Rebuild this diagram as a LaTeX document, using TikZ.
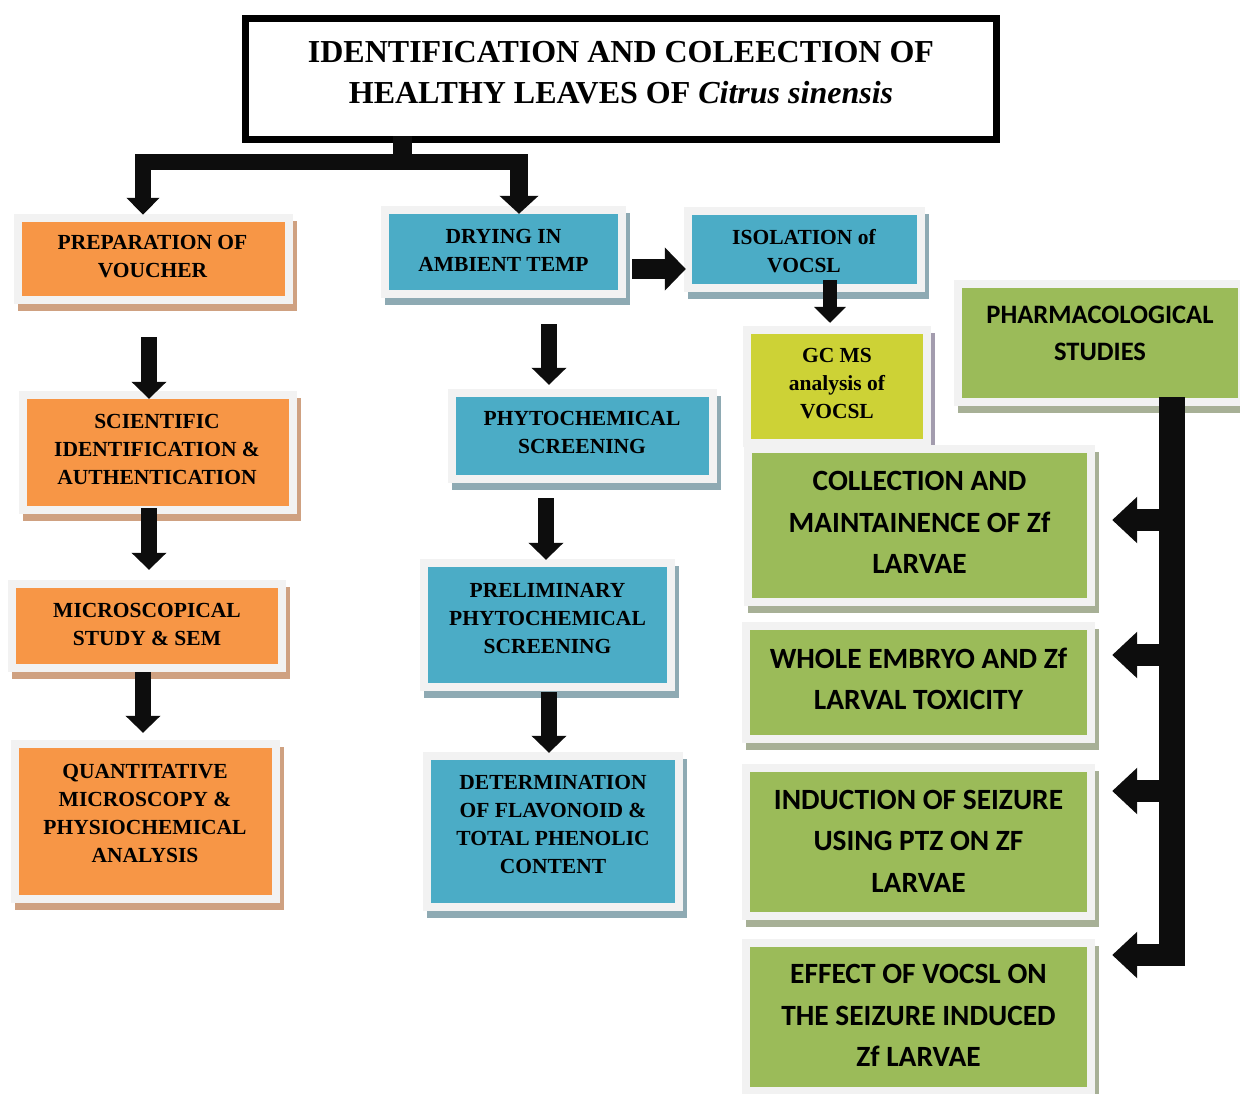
\documentclass[tikz,border=0pt]{standalone}
\usepackage{fontspec}
\setmainfont{Liberation Serif}
\newfontfamily\calfont{Carlito}
\usetikzlibrary{arrows.meta,calc}
\definecolor{orF}{HTML}{F79646}
\definecolor{orS}{HTML}{CFA181}
\definecolor{blF}{HTML}{4BACC6}
\definecolor{blS}{HTML}{8EAAB3}
\definecolor{grF}{HTML}{9BBB59}
\definecolor{grS}{HTML}{A7B096}
\definecolor{yeF}{HTML}{CDD236}
\definecolor{yeS}{HTML}{A39CAE}
\definecolor{frameG}{HTML}{F2F2F2}
\definecolor{ink}{HTML}{0D0D0D}
\tikzset{
  box/.style 2 args={rectangle, inner sep=0pt, fill=#1,
    preaction={fill=#2, draw=#2, line width=16pt, transform canvas={shift={(3.5pt,-6.5pt)}}},
    preaction={draw=frameG, line width=16pt}},
  obox/.style={box={orF}{orS}},
  bbox/.style={box={blF}{blS}},
  gbox/.style={box={grF}{grS}},
  ybox/.style={box={yeF}{yeS}},
  stxt/.style={font=\bfseries\fontsize{21.5}{28}\selectfont, align=center, inner sep=0pt},
  gtxt/.style={font=\calfont\bfseries\fontsize{29.4}{41.5}\selectfont, align=center, inner sep=0pt},
  blk/.style={draw=ink, line width=16pt, -{Triangle[width=34pt,length=17pt]}},
  blkh/.style={draw=ink, line width=20pt, -{Triangle[width=42pt,length=21pt]}},
  blks/.style={draw=ink, line width=14pt, -{Triangle[width=31pt,length=16pt]}},
  blkl/.style={draw=ink, line width=22pt, -{Triangle[width=45pt,length=25pt]}},
}
\begin{document}
\begin{tikzpicture}[x=1pt,y=-1pt]
\useasboundingbox (0,0) rectangle (1240,1093);
\fill[white] (0,0) rectangle (1240,1093);

% title
\node[draw=black, line width=7pt, minimum width=751pt, minimum height=121pt, inner sep=0pt] (title) at (621,79) {};
\node[font=\bfseries\fontsize{32}{41}\selectfont, align=center, inner sep=0pt] (title-t) at (621,72.5)
  {IDENTIFICATION AND COLEECTION OF\\HEALTHY LEAVES OF \textit{Citrus sinensis}};

% left column
\node[obox, minimum width=263pt, minimum height=74pt] (prep) at (153.5,259) {};
\node[stxt] (prep-t) at (152.5,257) {PREPARATION OF\\VOUCHER};
\node[obox, minimum width=262pt, minimum height=107pt] (sci) at (158,452.5) {};
\node[stxt] (sci-t) at (157,449.5) {SCIENTIFIC\\IDENTIFICATION \&\\AUTHENTICATION};
\node[obox, minimum width=262pt, minimum height=76pt] (micro) at (147,626) {};
\node[stxt] (micro-t) at (147,624) {MICROSCOPICAL\\STUDY \& SEM};
\node[obox, minimum width=253pt, minimum height=147pt] (quant) at (145.5,821.5) {};
\node[stxt] (quant-t) at (145,813) {QUANTITATIVE\\MICROSCOPY \&\\PHYSIOCHEMICAL\\ANALYSIS};

% middle column
\node[bbox, minimum width=229pt, minimum height=76pt] (dry) at (503.5,252) {};
\node[stxt] (dry-t) at (503.5,250.5) {DRYING IN\\AMBIENT TEMP};
\node[bbox, minimum width=225pt, minimum height=69pt] (isol) at (804.5,249.5) {};
\node[stxt] (isol-t) at (804,251) {ISOLATION of\\VOCSL};
\node[bbox, minimum width=253pt, minimum height=78pt] (phyto) at (582.5,436) {};
\node[stxt] (phyto-t) at (582,432.5) {PHYTOCHEMICAL\\SCREENING};
\node[bbox, minimum width=239pt, minimum height=116pt] (prelim) at (547.5,625) {};
\node[stxt] (prelim-t) at (547.5,618) {PRELIMINARY\\PHYTOCHEMICAL\\SCREENING};
\node[bbox, minimum width=244pt, minimum height=143pt] (determ) at (553,831.5) {};
\node[stxt] (determ-t) at (553,824.5) {DETERMINATION\\OF FLAVONOID \&\\TOTAL PHENOLIC\\CONTENT};

% right column
\node[gbox, minimum width=276pt, minimum height=110pt] (pharm) at (1100,343) {};
\node[gtxt, font=\calfont\bfseries\fontsize{26.6}{37}\selectfont] (pharm-t) at (1100,333.5) {PHARMACOLOGICAL\\STUDIES};
\node[ybox, minimum width=172pt, minimum height=105pt] (gcms) at (837,386.5) {};
\node[stxt] (gcms-t) at (837,384) {GC MS\\analysis of\\VOCSL};
\node[gbox, minimum width=335pt, minimum height=145pt] (coll) at (919.5,525.5) {};
\node[gtxt] (coll-t) at (919.5,522.5) {COLLECTION AND\\MAINTAINENCE OF Zf\\LARVAE};
\node[gbox, minimum width=337pt, minimum height=105pt] (whole) at (918.5,682.5) {};
\node[gtxt] (whole-t) at (918.5,679) {WHOLE EMBRYO AND Zf\\LARVAL TOXICITY};
\node[gbox, minimum width=337pt, minimum height=140pt] (induct) at (918.5,842) {};
\node[gtxt] (induct-t) at (918.5,841) {INDUCTION OF SEIZURE\\USING PTZ ON ZF\\LARVAE};
\node[gbox, minimum width=337pt, minimum height=140pt] (effect) at (918.5,1017) {};
\node[gtxt] (effect-t) at (918.5,1015.5) {EFFECT OF VOCSL ON\\THE SEIZURE INDUCED\\Zf LARVAE};

% top connector
\node[fill=ink, minimum width=19pt, minimum height=20pt, inner sep=0pt] (sq) at ($(title.south)+(-218.5,3)$) {};
\coordinate (barL) at (143,162);
\coordinate (barR) at (519,162);
\draw[blk, line join=miter, -{Triangle[width=32pt,length=17pt]}] (sq.center) |- (barL) -- ($(prep.north)+(-10.5,-7)$);
\draw[blk, line join=miter, line width=18pt, -{Triangle[width=38pt,length=18pt]}] (barR) -- ($(dry.north)+(15.5,0)$);
\draw[blk, line join=miter, -] (sq.center) |- ($(barR)+(9,0)$);

% left column arrows
\draw[blk] ($(prep.south)+(-4.5,41)$) -- ($(sci.north)+(-9,0)$);
\draw[blk] ($(sci.south)+(-9,2)$) -- ($(micro.north)+(2,-18)$);
\draw[blk] ($(micro.south)+(-4,8)$) -- ($(quant.north)+(-2.5,-15)$);

% middle arrows
\draw[blk] ($(dry.south)+(45.5,34)$) -- ($(phyto.north)+(-33.5,-12)$);
\draw[blk] ($(phyto.south)+(-36.5,23)$) -- ($(prelim.north)+(-1.5,-7)$);
\draw[blk] ($(prelim.south)+(1.5,9)$) -- ($(determ.north)+(-4,-7)$);
\draw[blkh] ($(dry.east)+(14,17)$) -- ($(isol.west)+(-6,19.5)$);
\draw[blks] ($(isol.south)+(25.5,-4)$) -- ($(gcms.north)+(-7,-11)$);

% right bar
\coordinate (bt) at ($(pharm.south)+(72,-1)$);
\coordinate (bb) at ($(bt)+(0,569)$);
\draw[ink, line width=26pt] (bt) -- (bb);
\draw[blkl] ($(coll.east)+(85,-5.5)$) -- ($(coll.east)+(25,-5.5)$);
\draw[blkl] ($(whole.east)+(85,-27.5)$) -- ($(whole.east)+(25,-27.5)$);
\draw[blkl] ($(induct.east)+(85,-51)$) -- ($(induct.east)+(25,-51)$);
\draw[blkl] ($(effect.east)+(85,-62)$) -- ($(effect.east)+(25,-62)$);
\end{tikzpicture}
\end{document}
